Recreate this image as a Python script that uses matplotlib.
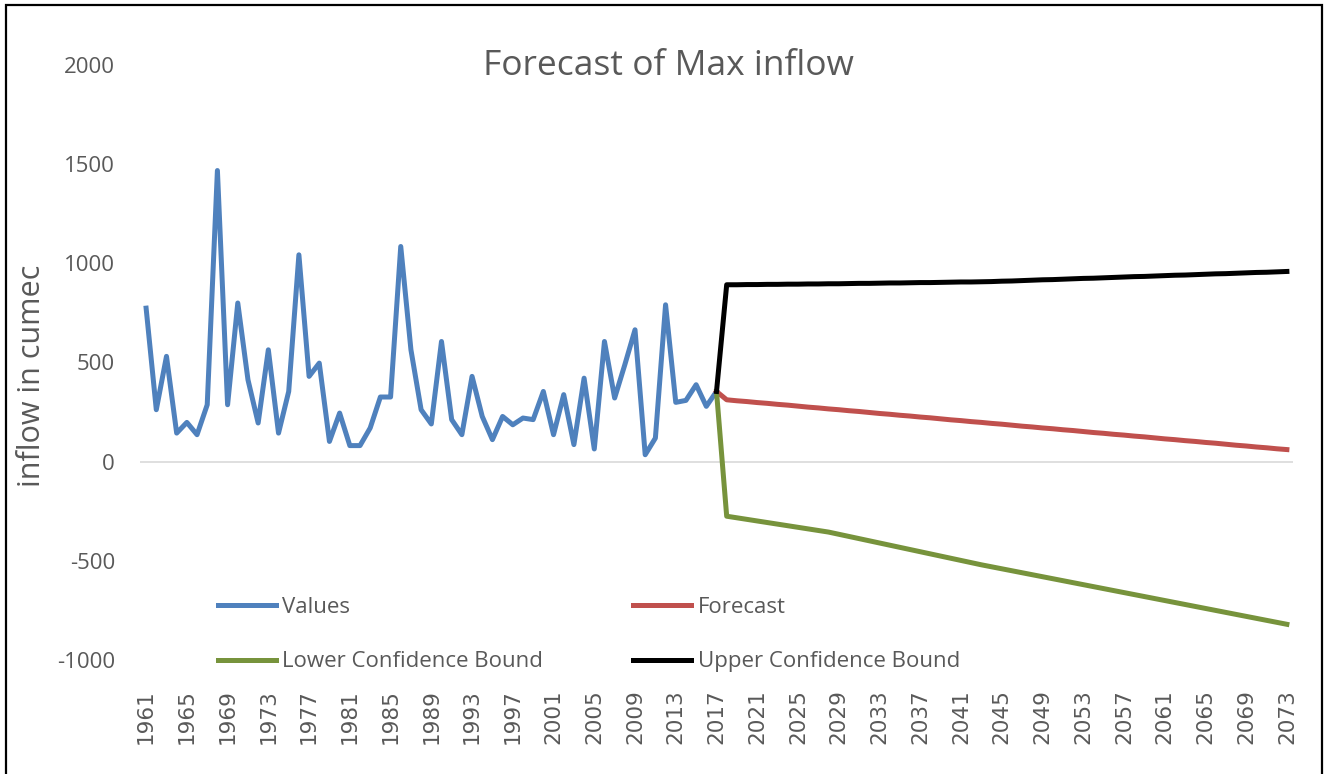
import matplotlib
matplotlib.use("Agg")
import matplotlib.pyplot as plt
from matplotlib.patches import Rectangle

# ---------------- data ----------------
years_hist = list(range(1961, 2018))
values = [774, 262, 531, 144, 198, 136, 287, 1468, 287, 800,
          413, 195, 564, 144, 354, 1043, 430, 497, 102, 245,
          81, 81, 170, 326, 326, 1085, 564, 262, 190, 606,
          212, 136, 430, 228, 111, 228, 186, 220, 212, 354,
          136, 338, 86, 421, 64, 606, 321, 489, 665, 35,
          119, 791, 299, 309, 388, 279, 354]

years_fc = list(range(2017, 2074))
forecast = [354, 312, 307, 303, 298, 294, 289, 285, 280, 275,
            271, 266, 262, 257, 253, 248, 243, 239, 234, 230,
            225, 221, 216, 211, 207, 202, 198, 193, 189, 184,
            179, 175, 170, 166, 161, 157, 152, 147, 143, 138,
            134, 129, 125, 120, 115, 111, 106, 102, 97, 93,
            88, 83, 79, 74, 70, 65, 61]
lower = [354, -275, -283, -291, -299, -307, -315, -323, -331, -339,
         -347, -355, -366, -377, -388, -399, -410, -421, -432, -443,
         -454, -465, -476, -487, -498, -509, -520, -530, -540, -550,
         -560, -570, -580, -590, -600, -610, -620, -630, -640, -650,
         -660, -670, -680, -690, -700, -710, -720, -730, -740, -750,
         -760, -770, -780, -790, -800, -810, -820]
upper = [354, 892, 892, 893, 893, 894, 894, 895, 895, 896,
         896, 897, 897, 898, 899, 899, 900, 901, 901, 902,
         903, 903, 904, 905, 906, 906, 907, 908, 910, 911,
         913, 915, 917, 918, 920, 922, 924, 925, 927, 929,
         931, 933, 934, 936, 938, 940, 941, 943, 945, 947,
         948, 950, 952, 954, 955, 957, 959]

series_labels = ["Values", "Forecast", "Lower Confidence Bound", "Upper Confidence Bound"]
title = "Forecast of Max inflow"
ylabel = "inflow in cumec"
yticks = [-1000, -500, 0, 500, 1000, 1500, 2000]
xticks = list(range(1961, 2074, 4))

# ---------------- style ----------------
TXT = "#595959"
FONT = ["Open Sans", "DejaVu Sans"]
plt.rcParams["font.family"] = FONT

fig = plt.figure(figsize=(13.3, 7.74), dpi=100)
ax = fig.add_axes([140/1330, 1-660/774, (1293-140)/1330, (660-65)/774])

LW = 3.6
l1, = ax.plot(years_hist, values, color="#4F81BD", lw=LW, solid_joinstyle="round", zorder=3)
l2, = ax.plot(years_fc, forecast, color="#C0504D", lw=LW, solid_joinstyle="round", zorder=3)
l3, = ax.plot(years_fc, lower, color="#77933C", lw=LW, solid_joinstyle="round", zorder=3)
l4, = ax.plot(years_fc, upper, color="#000000", lw=LW, solid_joinstyle="round", zorder=3)

ax.axhline(0, color="#D9D9D9", lw=1.2, zorder=1)

ax.set_xlim(1960.4, 2073.6)
ax.set_ylim(-1000, 2000)
ax.set_yticks(yticks)
ax.set_yticklabels([str(v) for v in yticks], color=TXT, fontsize=16)
ax.set_xticks(xticks)
ax.set_xticklabels([str(v) for v in xticks], rotation=90, color=TXT, fontsize=15.5,
                   family=["DejaVu Sans"])
ax.tick_params(axis="y", length=0, pad=18)
ax.tick_params(axis="x", length=0, pad=21)
for s in ax.spines.values():
    s.set_visible(False)

fig.text(668/1330, 1-66/774, title, ha="center", va="center", fontsize=25.5, color=TXT)
fig.text(32/1330, 1-376/774, ylabel, ha="center", va="center", rotation=90,
         fontsize=22, color=TXT)

# legend: rows are (Values, Forecast) and (Lower, Upper); matplotlib fills columns first
order = [0, 2, 1, 3]
handles = [l1, l2, l3, l4]
leg = fig.legend([handles[i] for i in order], [series_labels[i] for i in order],
                 loc="upper left", bbox_to_anchor=(218/1330, 1-597/774),
                 ncol=2, frameon=False, handlelength=2.6,
                 handletextpad=0.3, columnspacing=4.05, labelspacing=1.5,
                 borderpad=0, borderaxespad=0,
                 prop={"family": FONT, "size": 16})
for t in leg.get_texts():
    t.set_color(TXT)

fig.add_artist(Rectangle((6/1330, -0.02), (1322-6)/1330, 1.02-5/774,
                         transform=fig.transFigure, fill=False,
                         edgecolor="black", lw=1.6))

fig.savefig("out.png", dpi=100)
